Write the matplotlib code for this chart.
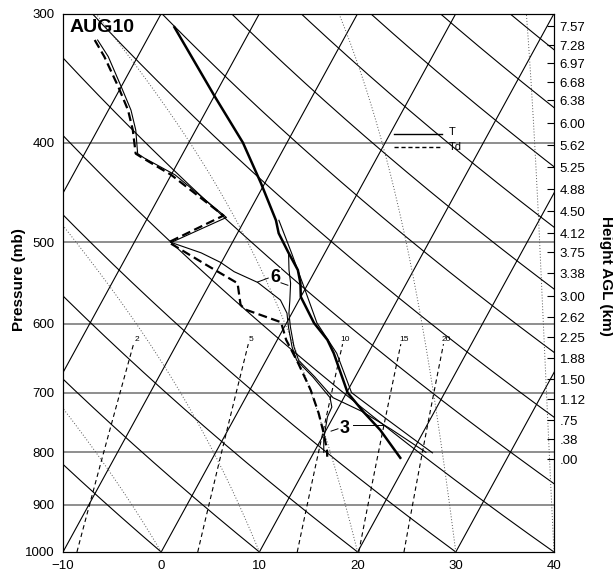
import numpy as np
import matplotlib.pyplot as plt
from matplotlib.ticker import NullLocator, FixedLocator

plt.rcParams['font.family'] = ['Liberation Sans', 'DejaVu Sans']

SKEW = 24.9  # deg C of skew per unit ln(p)


def skew_x(t, p):
    return np.asarray(t, dtype=float) + SKEW * np.log(1000.0 / np.asarray(p, dtype=float))


## Sounding data (pressure in mb, temperature in C)
t0_p = [309, 361, 400, 438, 476, 490, 512, 532, 548, 565, 599, 622, 641, 700, 731, 761, 810]
t0_t = [-27.9, -19.9, -14.5, -10.4, -6.8, -5.8, -3.7, -1.8, -0.8, 0.0, 2.8, 5.1, 6.5, 10.1, 12.8, 15.5, 19.1]

td0_p = [318, 330, 353, 372, 389, 410, 413, 430, 471, 500, 526, 548, 575, 581, 598, 622, 655, 696, 733, 766, 796, 808]
td0_t = [-35.3, -33.4, -30.3, -28.0, -26.4, -24.8, -24.1, -20.0, -12.4, -16.5, -11.4, -7.2, -5.7, -5.0, -0.6, 0.9, 3.4, 6.2, 8.3, 9.9, 11.2, 11.6]

# thin traces of the 3 and 6 soundings
td3_p = [318, 330, 353, 372, 389, 410, 414, 430, 473, 500]
td3_t = [-35.0, -33.0, -30.0, -27.7, -26.1, -24.6, -23.7, -19.6, -12.0, -16.2]

t3_p = [476, 512, 553, 599, 641, 700, 744, 773, 801]
t3_t = [-6.5, -3.4, -0.2, 3.1, 6.8, 10.5, 15.7, 19.0, 22.1]

t6_p = [512, 532, 548, 570, 586, 604, 632, 651, 676, 708, 730, 760, 800]
t6_t = [-3.7, -2.7, -1.8, -0.9, -0.3, 0.6, 2.1, 3.3, 5.9, 8.9, 12.6, 16.6, 21.4]

td6_p = [500, 512, 523, 534, 547, 569, 586, 604, 632, 651, 676, 708, 723, 739, 761, 778, 800]
td6_t = [-16.3, -12.6, -10.1, -8.2, -5.2, -1.9, -0.5, 0.4, 1.9, 3.1, 5.7, 8.6, 9.3, 9.4, 9.9, 10.3, 11.0]

## Axis labels
p_ticks = [300, 400, 500, 600, 700, 800, 900, 1000]
t_ticks = [-10, 0, 10, 20, 30, 40]
hgt_p = [308.3, 321.7, 334.9, 349.4, 363.8, 383.0, 402.3, 422.6, 443.9, 466.3, 489.9,
         511.1, 535.7, 564.0, 591.1, 618.2, 647.9, 679.1, 710.1, 744.3, 776.6, 812.2]
hgt_lbl = ['7.57', '7.28', '6.97', '6.68', '6.38', '6.00', '5.62', '5.25', '4.88', '4.50', '4.12',
           '3.75', '3.38', '3.00', '2.62', '2.25', '1.88', '1.50', '1.12', '.75', '.38', '.00']
mix_ratios = [2, 5, 10, 15, 20]
moist_thw = [0, 10, 20, 30, 40]

fig = plt.figure(figsize=(6.13, 5.75), dpi=100)
ax = fig.add_axes([63 / 613, 23 / 575, 491 / 613, 538 / 575])
ax.set_yscale('log')
ax.set_ylim(1000, 300)
ax.set_xlim(-10, 40)

p_fine = np.geomspace(1000, 300, 300)

# isobars
for p in [400, 500, 600, 700, 800, 900]:
    ax.axhline(p, color='#707070', lw=1.1, zorder=1)

# isotherms
for t in range(-60, 50, 10):
    ax.plot(skew_x(t, p_fine), p_fine, color='k', lw=0.8, zorder=2)

# dry adiabats
for th in range(263, 483, 10):
    t = (th + 0.15) * (p_fine / 1000.0) ** 0.2857 - 273.15
    ax.plot(skew_x(t, p_fine), p_fine, color='k', lw=0.8, zorder=2)


# saturated adiabats
def moist_profile(t_start, pres):
    Rd, Cp, Lv, eps = 287.04, 1005.7, 2.501e6, 0.622

    def dtdp(T, p):
        tc = T - 273.15
        es = 6.112 * np.exp(17.67 * tc / (tc + 243.5))
        rs = eps * es / (p - es)
        return (Rd * T + Lv * rs) / (p * (Cp + Lv * Lv * rs * eps / (Rd * T * T)))

    out = [t_start + 273.15]
    for i in range(1, len(pres)):
        T = out[-1]
        dp = pres[i] - pres[i - 1]
        k1 = dtdp(T, pres[i - 1])
        k2 = dtdp(T + 0.5 * dp * k1, pres[i - 1] + 0.5 * dp)
        out.append(T + dp * k2)
    return np.array(out) - 273.15


for thw in moist_thw:
    t = moist_profile(thw, p_fine)
    ax.plot(skew_x(t, p_fine), p_fine, color='#555555', lw=0.7, ls=(0, (1, 2)), zorder=2)

# mixing ratio lines
p_mr = np.geomspace(1000, 628, 60)
for w in mix_ratios:
    e = w * p_mr / (622.0 + w)
    td = 243.5 * np.log(e / 6.112) / (17.67 - np.log(e / 6.112))
    ax.plot(skew_x(td, p_mr), p_mr, color='k', lw=0.8, dashes=(4, 3), zorder=2)
    ax.text(skew_x(td[-1], p_mr[-1]) + 0.3, 626, str(w), fontsize=6, ha='center', va='bottom')

# soundings
ax.plot(skew_x(t6_t, t6_p), t6_p, color='k', lw=0.8, zorder=4)
ax.plot(skew_x(td6_t, td6_p), td6_p, color='k', lw=0.8, zorder=4)
ax.plot(skew_x(t3_t, t3_p), t3_p, color='k', lw=0.8, zorder=4)
ax.plot(skew_x(td3_t, td3_p), td3_p, color='k', lw=0.8, zorder=4)
ax.plot(skew_x(t0_t, t0_p), t0_p, color='k', lw=1.8, zorder=5)
ax.plot(skew_x(td0_t, td0_p), td0_p, color='k', lw=1.6, dashes=(4, 2), zorder=5)

# hour labels with leaders
ax.text(11.6, 541, '6', fontsize=13, fontweight='bold', ha='center', va='center', zorder=6,
        bbox=dict(fc='white', ec='none', pad=0.5))
ax.plot([9.8, 10.9], [546.6, 541.7], color='k', lw=0.7, zorder=6)
ax.plot([12.2, 12.9], [547.5, 550.5], color='k', lw=0.7, zorder=6)
ax.text(18.7, 758, '3', fontsize=13, fontweight='bold', ha='center', va='center', zorder=6,
        bbox=dict(fc='white', ec='none', pad=0.5))
ax.plot([17.3, 18.0], [763, 759], color='k', lw=0.7, zorder=6)
ax.plot([19.5, 22.6], [753, 753], color='k', lw=0.7, zorder=6)

# legend
ax.plot([0.674, 0.772], [0.777, 0.777], color='k', lw=1.0, transform=ax.transAxes)
ax.plot([0.674, 0.772], [0.753, 0.753], color='k', lw=1.0, dashes=(3, 2), transform=ax.transAxes)
ax.text(0.785, 0.780, 'T', fontsize=8, transform=ax.transAxes, ha='left', va='center')
ax.text(0.785, 0.752, 'Td', fontsize=8, transform=ax.transAxes, ha='left', va='center')

ax.text(0.014, 0.99, 'AUG10', fontsize=14, fontweight='bold', transform=ax.transAxes,
        ha='left', va='top', zorder=6)

ax.set_yticks(p_ticks)
ax.set_yticklabels([str(p) for p in p_ticks])
ax.yaxis.set_minor_locator(NullLocator())
ax.set_xticks(t_ticks)
ax.set_xticklabels(['\u221210', '0', '10', '20', '30', '40'])
ax.tick_params(axis='both', length=0, labelsize=9.5, pad=6)

ax2 = ax.twinx()
ax2.set_yscale('log')
ax2.set_ylim(1000, 300)
ax2.yaxis.set_major_locator(FixedLocator(hgt_p))
ax2.set_yticklabels(hgt_lbl)
ax2.yaxis.set_minor_locator(NullLocator())
ax2.tick_params(axis='y', direction='in', length=5, labelsize=9.5, pad=4)

fig.text(0.031, 0.513, 'Pressure (mb)', rotation=90, fontsize=11, fontweight='bold',
         ha='center', va='center')
fig.text(0.988, 0.52, 'Height AGL (km)', rotation=-90, fontsize=11, fontweight='bold',
         ha='center', va='center')

fig.savefig('out.png', dpi=100)
